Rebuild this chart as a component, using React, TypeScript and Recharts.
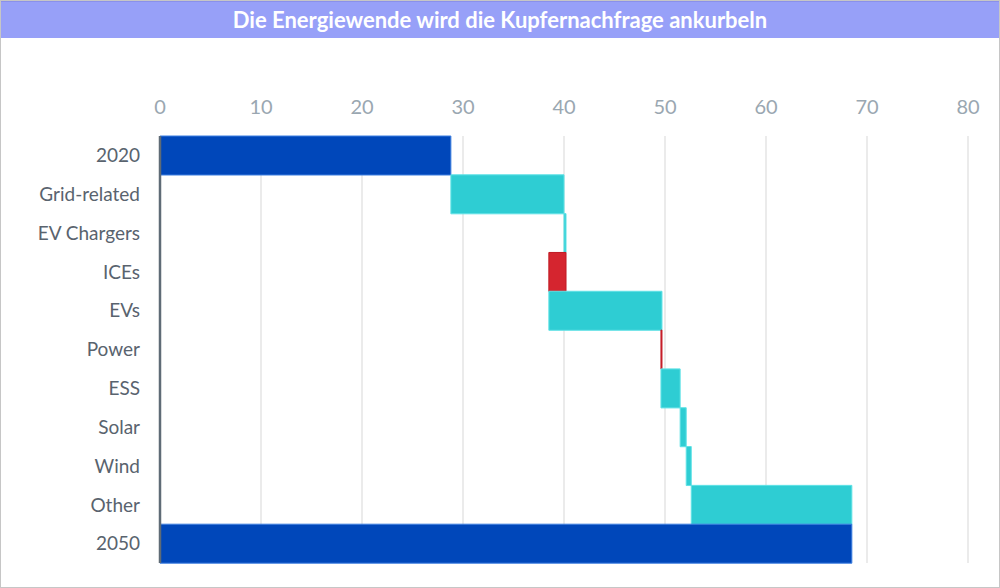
import React from 'react';
import { BarChart, Bar, XAxis, YAxis, CartesianGrid, Cell } from 'recharts';

const categories = ['2020', 'Grid-related', 'EV Chargers', 'ICEs', 'EVs', 'Power', 'ESS', 'Solar', 'Wind', 'Other', '2050'];
// totals for 2020 / 2050, change for every other step
const changes = [28.8, 11.2, 0.2, -1.7, 11.2, -0.1, 1.9, 0.6, 0.5, 15.9, 68.5];
const kinds = ['total', 'up', 'up', 'down', 'up', 'down', 'up', 'up', 'up', 'up', 'total'];
const xTicks = [0, 10, 20, 30, 40, 50, 60, 70, 80];

const COLORS: Record<string, { fill: string; stroke: string }> = {
    total: { fill: '#0047ba', stroke: '#3d7fe0' },
    up: { fill: '#2ecdd3', stroke: '#5fe2e6' },
    down: { fill: '#d5252f', stroke: '#c01a24' },
};

// build the waterfall rows: invisible base + visible span
const rows = (() => {
    let running = 0;
    return categories.map((label, i) => {
        const kind = kinds[i];
        const v = changes[i];
        if (kind === 'total') {
            running = v;
            return { label, base: 0, span: v, kind };
        }
        const start = running;
        running = start + v;
        return { label, base: Math.min(start, running), span: Math.abs(v), kind };
    });
})();

const FONT = 'Lato, "Open Sans", sans-serif';

export default function App() {
    return (
        <div
            style={{
                position: 'fixed',
                left: 0,
                top: 0,
                width: 1000,
                height: 588,
                boxSizing: 'border-box',
                border: '1px solid #c6c6c6',
                background: '#fff',
                fontFamily: FONT,
                overflow: 'hidden',
            }}
        >
            <div
                style={{
                    position: 'absolute',
                    left: 0,
                    top: 0,
                    width: '100%',
                    height: 37,
                    background: '#97a0f8',
                    borderTop: '1px solid #8a90ea',
                    boxSizing: 'border-box',
                    color: '#fff',
                    fontWeight: 700,
                    fontSize: 22,
                    lineHeight: '35px',
                    textAlign: 'center',
                }}
            >
                Die Energiewende wird die Kupfernachfrage ankurbeln
            </div>
            <div style={{ position: 'absolute', left: -1, top: -1 }}>
                <BarChart
                    width={1000}
                    height={588}
                    data={rows}
                    layout="vertical"
                    barCategoryGap={0}
                    margin={{ top: 106, right: 32, bottom: 25, left: 0 }}
                >
                    <CartesianGrid horizontal={false} stroke="#ebebeb" strokeWidth={2} />
                    <XAxis
                        type="number"
                        orientation="top"
                        domain={[0, 80]}
                        ticks={xTicks}
                        height={30}
                        axisLine={false}
                        tickLine={false}
                        tickSize={0}
                        tickMargin={22}
                        tick={{ fill: '#9aa7b1', fontSize: 20, fontFamily: FONT }}
                    />
                    <YAxis
                        type="category"
                        dataKey="label"
                        width={160}
                        axisLine={{ stroke: '#5f6b76', strokeWidth: 2.5 }}
                        tickLine={false}
                        tickMargin={14}
                        interval={0}
                        tick={{ fill: '#59636e', fontSize: 19, fontFamily: FONT }}
                    />
                    <Bar dataKey="base" stackId="w" fill="transparent" isAnimationActive={false} />
                    <Bar dataKey="span" stackId="w" strokeWidth={1} isAnimationActive={false}>
                        {rows.map((r, i) => (
                            <Cell key={i} fill={COLORS[r.kind].fill} stroke={COLORS[r.kind].stroke} />
                        ))}
                    </Bar>
                </BarChart>
            </div>
        </div>
    );
}
